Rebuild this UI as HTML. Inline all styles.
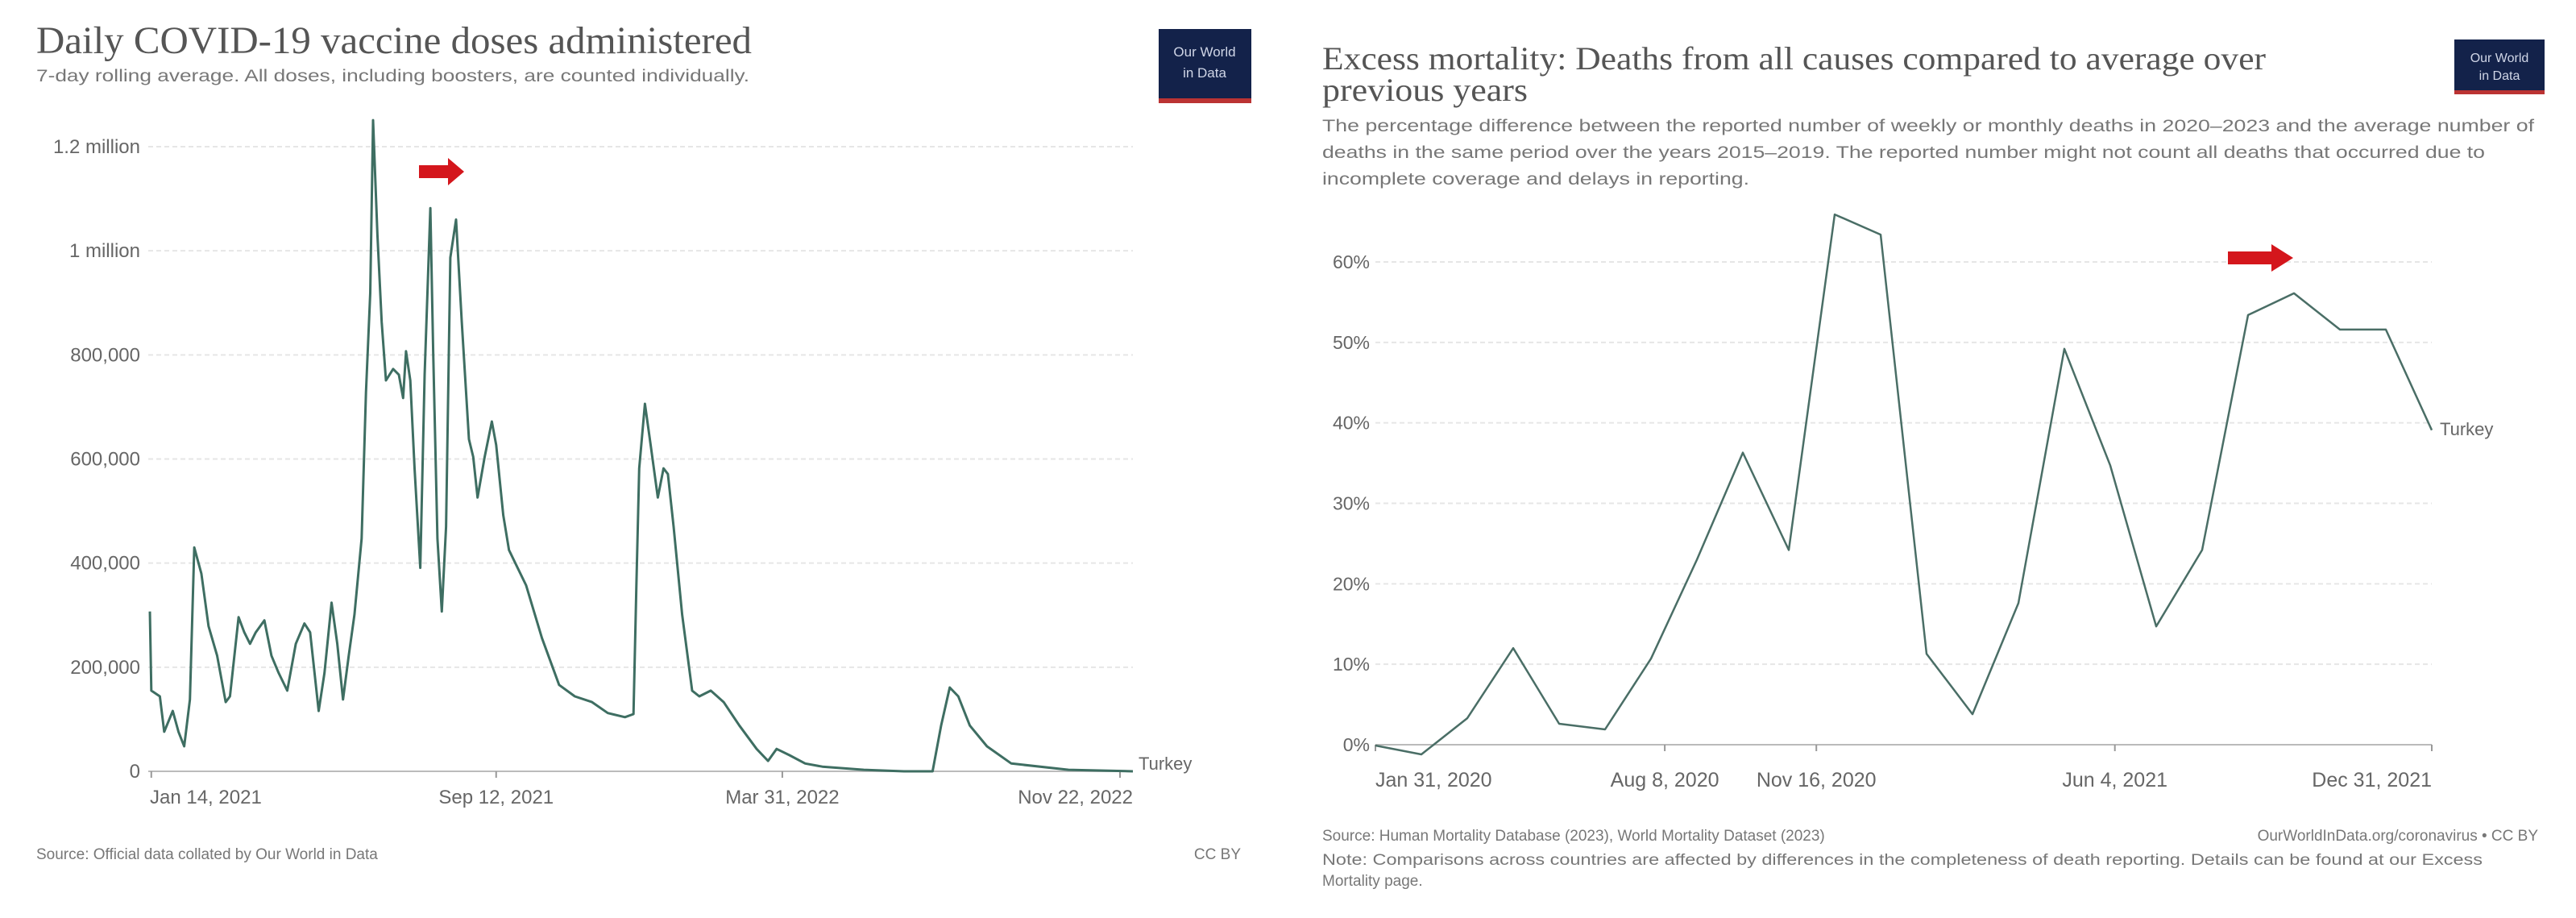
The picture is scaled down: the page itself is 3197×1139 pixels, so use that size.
<!DOCTYPE html>
<html><head><meta charset="utf-8"><style>
html,body{margin:0;padding:0;background:#fff;}
svg{display:block;}
</style></head><body>
<svg id="root" width="3197" height="1139" viewBox="0 0 3197 1139" xmlns="http://www.w3.org/2000/svg" font-family="Liberation Sans, sans-serif">
<rect width="3197" height="1139" fill="#fff"/>
<g id="left">
  <text x="45" y="66" font-family="Liberation Serif, serif" font-size="48" fill="#555" textLength="888" lengthAdjust="spacingAndGlyphs">Daily COVID-19 vaccine doses administered</text>
  <text x="45" y="101" font-size="21" fill="#777" textLength="885" lengthAdjust="spacingAndGlyphs">7-day rolling average. All doses, including boosters, are counted individually.</text>
  <g><rect x="1438" y="36" width="115" height="92" fill="#13224a"/><rect x="1438" y="122" width="115" height="6" fill="#b33"/><text x="1495" y="70" font-size="17" fill="#cfd5e6" text-anchor="middle">Our World</text><text x="1495" y="96" font-size="17" fill="#cfd5e6" text-anchor="middle">in Data</text></g>
  <g id="lgrid"></g>
  <path d="M520 205 h36 v-9 l20 17 l-20 17 v-9 h-36 z" fill="#d4161c"/>
  <text x="1413" y="955" font-size="22" fill="#666">Turkey</text>
  <text x="45" y="1066" font-size="19" fill="#777">Source: Official data collated by Our World in Data</text>
  <text x="1540" y="1066" font-size="19" fill="#777" text-anchor="end">CC BY</text>
</g>
<g id="right">
  <text x="1641" y="86" font-family="Liberation Serif, serif" font-size="40" fill="#555" textLength="1171" lengthAdjust="spacingAndGlyphs">Excess mortality: Deaths from all causes compared to average over</text>
  <text x="1641" y="125" font-family="Liberation Serif, serif" font-size="40" fill="#555" textLength="255" lengthAdjust="spacingAndGlyphs">previous years</text>
  <text x="1641" y="163" font-size="21" fill="#777" textLength="1504" lengthAdjust="spacingAndGlyphs">The percentage difference between the reported number of weekly or monthly deaths in 2020–2023 and the average number of</text>
  <text x="1641" y="196" font-size="21" fill="#777" textLength="1443" lengthAdjust="spacingAndGlyphs">deaths in the same period over the years 2015–2019. The reported number might not count all deaths that occurred due to</text>
  <text x="1641" y="229" font-size="21" fill="#777" textLength="530" lengthAdjust="spacingAndGlyphs">incomplete coverage and delays in reporting.</text>
  <g><rect x="3046" y="49" width="112" height="68" fill="#13224a"/><rect x="3046" y="112" width="112" height="5" fill="#b33"/><text x="3102" y="77" font-size="16" fill="#cfd5e6" text-anchor="middle">Our World</text><text x="3102" y="99" font-size="16" fill="#cfd5e6" text-anchor="middle">in Data</text></g>
  <g id="rgrid"></g>
  <path d="M2765 312 h54 v-9 l27 17 l-27 17 v-9 h-54 z" fill="#d4161c"/>
  <text x="3028" y="540" font-size="22" fill="#666">Turkey</text>
  <text x="1641" y="1043" font-size="19" fill="#777">Source: Human Mortality Database (2023), World Mortality Dataset (2023)</text>
  <text x="3150" y="1043" font-size="19" fill="#777" text-anchor="end">OurWorldInData.org/coronavirus • CC BY</text>
  <text x="1641" y="1073" font-size="19" fill="#777" textLength="1440" lengthAdjust="spacingAndGlyphs">Note: Comparisons across countries are affected by differences in the completeness of death reporting. Details can be found at our Excess</text>
  <text x="1641" y="1099" font-size="19" fill="#777">Mortality page.</text>
</g>
</svg>
<script>
// ---- Left chart data (day offset from 2021-01-13, thousands of doses)
const vaxDays = [0,1,7,10,16,20,24,28,31,36,41,47,53,56,62,66,70,74,80,85,90,96,102,108,112,118,122,127,131,135,139,143,148,151,154,156,159,162,165,170,174,177,179,182,185,189,192,196,198,201,204,207,210,214,218,223,226,229,234,239,242,247,251,263,274,286,297,309,320,332,338,340,342,346,350,355,359,362,366,372,379,384,392,401,412,424,432,438,447,458,470,499,527,547,553,559,565,573,585,602,642,687];
const vaxValues = [307,155,144,76,116,76,48,138,430,380,279,222,133,144,296,267,245,267,290,222,189,155,245,284,267,116,189,324,245,138,222,301,447,728,919,1251,1031,863,751,773,762,717,807,751,582,391,762,1082,807,447,307,470,987,1060,863,638,604,526,604,672,627,492,425,357,256,166,144,133,112,104,110,357,582,706,627,526,582,571,470,301,155,144,155,133,88,43,20,43,31,15,9,3,0,0,88,161,144,88,48,15,3,0];
const vaxTicks = [0,200,400,600,800,1000,1200];
const vaxTickLabels = ["0","200,000","400,000","600,000","800,000","1 million","1.2 million"];
const vaxXLabelDays = [1,242,442,678];
const vaxXLabels = ["Jan 14, 2021","Sep 12, 2021","Mar 31, 2022","Nov 22, 2022"];

// ---- Right chart data (monthly index from Jan 2020, excess %)
const mortMonths = [0,1,2,3,4,5,6,7,8,9,10,11,12,13,14,15,16,17,18,19,20,21,22,23];
const mortValues = [-0.1,-1.2,3.3,12,2.6,1.9,10.7,23,36.3,24.2,65.9,63.4,11.3,3.8,17.6,49.2,34.7,14.7,24.2,53.4,56.1,51.6,51.6,39.1];
const mortTicks = [0,10,20,30,40,50,60];
const mortTickLabels = ["0%","10%","20%","30%","40%","50%","60%"];
const mortXLabelIdx = [0,6.3,9.6,16.1,23];
const mortXLabels = ["Jan 31, 2020","Aug 8, 2020","Nov 16, 2020","Jun 4, 2021","Dec 31, 2021"];

const NS = "http://www.w3.org/2000/svg";
function mk(tag, attrs, parent){const e=document.createElementNS(NS,tag);for(const k in attrs)e.setAttribute(k,attrs[k]);parent.appendChild(e);return e;}

// Left axes
const lx = d => 186 + d/687*(1406-186);
const ly = v => 957 - v/1200*(957-182);
const lg = document.getElementById('lgrid');
vaxTicks.forEach((t,i)=>{
  const l=mk('line',{x1:184,x2:1406,y1:ly(t),y2:ly(t),stroke:i===0?'#bbb':'#e6e6e6','stroke-width':2,'stroke-dasharray':i===0?'':'6 4'},lg);
  
  
  const tx=mk('text',{x:174,y:ly(t)+8,'font-size':24,fill:'#666','text-anchor':'end'},lg);
  tx.textContent=vaxTickLabels[i];
  
  
});
vaxXLabelDays.forEach((d,i)=>{
  const anchor=i===0?'start':(i===vaxXLabels.length-1?'end':'middle');
  const tk=mk('line',{x1:lx(d),x2:lx(d),y1:957,y2:965,stroke:'#999','stroke-width':2},lg);
  
  
  const tx=mk('text',{x:i===0?186:(i===vaxXLabels.length-1?1406:lx(d)),y:997,'font-size':24,fill:'#666','text-anchor':anchor},lg);
  tx.textContent=vaxXLabels[i];
  
  
});
const lp=mk('polyline',{points:vaxDays.map((d,i)=>lx(d).toFixed(1)+','+ly(vaxValues[i]).toFixed(1)).join(' '),fill:'none',stroke:'#3e6e62','stroke-width':3,'stroke-linejoin':'round'},lg);



// Right axes
const rx = m => 1707 + m/23*(3018-1707);
const ry = v => 924 - v/60*(924-325);
const rg = document.getElementById('rgrid');
mortTicks.forEach((t,i)=>{
  const l=mk('line',{x1:1707,x2:3018,y1:ry(t),y2:ry(t),stroke:i===0?'#bbb':'#e6e6e6','stroke-width':2,'stroke-dasharray':i===0?'':'6 4'},rg);
  
  
  const tx=mk('text',{x:1700,y:ry(t)+8,'font-size':23,fill:'#666','text-anchor':'end'},rg);
  tx.textContent=mortTickLabels[i];
  
  
});
mortXLabelIdx.forEach((m,i)=>{
  const anchor=i===0?'start':(i===mortXLabels.length-1?'end':'middle');
  const tk=mk('line',{x1:rx(m),x2:rx(m),y1:924,y2:932,stroke:'#999','stroke-width':2},rg);
  
  
  const tx=mk('text',{x:rx(m),y:976,'font-size':25,fill:'#666','text-anchor':anchor},rg);
  tx.textContent=mortXLabels[i];
  
  
});
const rp=mk('polyline',{points:mortMonths.map((m,i)=>rx(m).toFixed(1)+','+ry(mortValues[i]).toFixed(1)).join(' '),fill:'none',stroke:'#4a6e66','stroke-width':2.5,'stroke-linejoin':'round'},rg);


</script>
</body></html>
